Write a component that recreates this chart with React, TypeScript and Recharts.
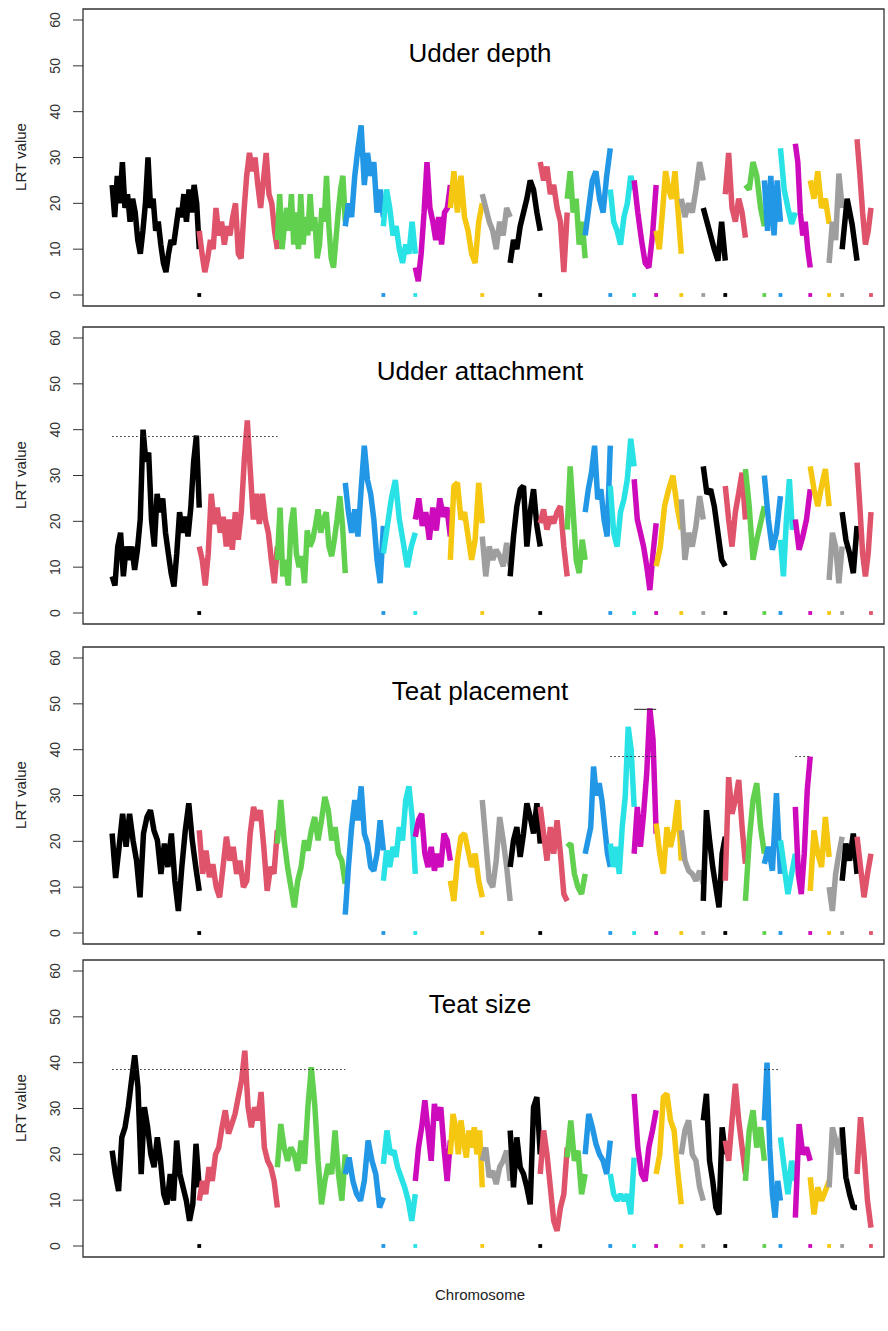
import React from "react";
import {
  ComposedChart, Line, Scatter, XAxis, YAxis, ReferenceArea, ReferenceLine,
} from "recharts";

// R default palette, cycled over chromosomes
const COLORS = ["#000000", "#DF536B", "#61D04F", "#2297E6", "#28E2E5", "#CD0BBC", "#F5C710", "#9E9E9E"];

// chromosome lengths (Mb)
const CHROM_LENGTHS = [281, 252, 219, 123, 103, 113, 103, 90, 97, 87, 58, 81, 77, 71, 81, 71, 71, 65, 61, 52, 48, 48, 61, 42, 48, 45];
// chromosomes whose end carries a small marker at LRT = 0
const MARKER_CHROMS = [1, 4, 5, 7, 9, 12, 13, 14, 15, 16, 17, 19, 20, 22, 23, 24, 26];
const Y_TICKS = [0, 10, 20, 30, 40, 50, 60];

// LRT profiles, one array per chromosome
const UDDER_DEPTH = [
  [24, 17, 26, 20, 29, 19, 22, 16, 21, 18, 12, 9, 14, 20, 30, 19, 21, 14, 16, 11, 7, 5, 9, 12, 11, 15, 19, 17, 22, 16, 23, 18, 24, 20, 10],
  [14, 9, 5, 8, 12, 10, 19, 13, 16, 11, 15, 13, 17, 20, 9, 8, 18, 26, 31, 27, 30, 24, 19, 25, 31, 22, 20, 14, 10],
  [12, 22, 10, 15, 19, 14, 22, 11, 18, 10, 22, 11, 17, 13, 22, 14, 17, 8, 11, 19, 16, 26, 15, 8, 6, 12, 18, 23, 26, 16],
  [15, 20, 17, 26, 32, 37, 24, 31, 26, 29, 18, 23, 17],
  [15, 23, 19, 13, 15, 10, 7, 11, 9, 16, 9],
  [6, 3, 9, 18, 29, 19, 16, 12, 17, 11, 18, 19, 24],
  [19, 27, 18, 26, 17, 14, 9, 7, 16, 20],
  [22, 19, 16, 14, 10, 16, 13, 19, 17],
  [7, 12, 10, 15, 18, 21, 25, 23, 18, 14],
  [29, 25, 28, 22, 24, 19, 16, 5, 18],
  [21, 27, 18, 21, 11, 16, 8],
  [13, 19, 25, 27, 21, 18, 26, 32],
  [23, 16, 14, 11, 17, 20, 26, 23],
  [25, 18, 12, 7, 6, 13, 24],
  [14, 10, 18, 27, 23, 21, 27, 18, 9],
  [21, 17, 20, 18, 23, 29, 25],
  [19, 16, 13, 10, 7.5, 16, 7.5],
  [22, 31, 19, 16, 21, 18, 12.5],
  [24, 23, 29, 26, 19, 15],
  [25, 14, 26, 13, 25, 16],
  [32, 23, 19, 15.5, 18],
  [33, 29, 18, 13, 16, 10, 6],
  [25, 21, 27, 19, 21, 15.5],
  [7, 16, 12, 26.5, 19],
  [10, 21, 15.5, 7.5],
  [34, 26.5, 18, 11, 14, 19],
];

const UDDER_ATTACHMENT = [
  [8, 6, 14.5, 17.5, 8, 14.5, 11.6, 14.5, 9.4, 13.8, 20.4, 40, 33, 35, 20.4, 14.5, 26, 22, 25, 17.5, 13, 8.7, 5.8, 13, 22, 17.5, 21, 16.7, 23, 33, 38.7, 23],
  [14.5, 11.6, 6, 13, 26, 19.4, 23, 17.5, 21, 14.5, 20.4, 13.8, 22, 16, 22, 33.5, 42, 31, 20.4, 26, 19.4, 26, 20.4, 17.5, 11.6, 6.5, 14.5],
  [11.6, 23, 8, 11.6, 6, 19, 23, 13, 10, 12.4, 6.5, 18, 14.5, 16, 19, 22.6, 17.5, 20.4, 22, 14.5, 12.4, 16, 20.4, 25.5, 19, 8.7],
  [28.4, 22, 17.5, 22.6, 16.7, 27, 36.5, 29, 26, 20.4, 11.6, 6.5, 19],
  [13, 19, 25, 29, 20.4, 15.3, 10, 14.5, 17.5],
  [20.4, 25, 19, 22, 16, 23, 18, 25, 21, 23, 16.7],
  [11.6, 27.7, 28.4, 20.4, 22, 16.7, 11.6, 16, 28.4, 19.6],
  [16.7, 8, 14.5, 11.6, 13.8, 12.4, 10.2, 15.3, 10.2],
  [8, 16.7, 23.3, 27, 27.7, 14.5, 22, 27, 19, 14.5],
  [19.6, 22.6, 18.2, 21, 19.6, 22, 23.3, 14.5, 8],
  [18.2, 32, 22, 11.6, 8.7, 16, 11.6],
  [22, 27, 30.6, 36.5, 24.8, 27, 20.4, 16.7, 36.5],
  [27.7, 17.5, 14.5, 22, 24.8, 29.2, 38, 32],
  [29.2, 20.4, 17.5, 14.5, 10.2, 5, 13, 19.6],
  [10.2, 14.5, 23.3, 27, 30, 23.3, 18.2],
  [24.8, 11.6, 17.5, 14.5, 19, 25.5, 20.4],
  [32, 26, 27, 23.3, 17.5, 11.6, 10.2],
  [27.7, 20.4, 14.5, 22, 26.2, 30.6, 20.4],
  [31.4, 23.3, 11.6, 16, 19.6, 23.3],
  [30, 20.4, 13.8, 17.5, 25.5],
  [16, 8, 20.4, 29.2, 18.2, 20.4],
  [20.4, 13.8, 16.7, 20.4, 27],
  [32, 27, 23.3, 27.7, 31.4, 23.3],
  [7.2, 17.5, 14.5, 6.5, 14.5],
  [22, 16, 13, 8.7, 19],
  [32.8, 23.3, 13, 8, 13, 22],
];

const TEAT_PLACEMENT = [
  [21.7, 12, 18.8, 26, 18.8, 26, 20.2, 15.8, 7.8, 21.7, 25.3, 26.8, 22.4, 20.2, 12.9, 19.5, 14.4, 21.7, 11.4, 4.8, 14.4, 22.4, 28.3, 20.2, 14.4, 9.2],
  [22.4, 12.9, 18, 12.2, 15, 10, 7.8, 14.4, 21, 15.8, 18.8, 12.9, 15.8, 10, 11.4, 21.7, 27.5, 24.6, 26.8, 18.8, 9.2, 14.4, 12.9, 22.4],
  [19.5, 29, 20.2, 14.4, 10, 5.6, 11.4, 14.4, 20.2, 18, 22.4, 25.3, 20.2, 24.6, 29.7, 26.8, 20.2, 23.1, 17.3, 15.8, 10.7],
  [4, 14.4, 23, 29, 24.6, 32, 21.7, 19.5, 14.4, 13.6, 17.3, 24.6, 18],
  [11.4, 18, 14.4, 18.8, 16.6, 23.1, 20.2, 29, 32, 25.3, 12.9],
  [21, 24.6, 26, 17.3, 14.4, 18.8, 13.6, 17.3, 14.4, 21.7, 20.2, 15.8],
  [11.4, 7, 15.8, 21, 21.7, 18, 14.4, 17.3, 11.4, 7.8],
  [29, 20.2, 11.4, 10, 15.8, 25.3, 20.2, 14.4, 7],
  [14.4, 20.2, 23.1, 16.6, 21.7, 28.3, 25.3, 21.7, 28.3, 19.5],
  [27.5, 21.7, 15.8, 23.1, 17.3, 24.6, 17.3, 8.5, 7],
  [18.8, 19.5, 12.9, 10, 8.5, 12.9],
  [17.3, 20.2, 23.1, 36.3, 30, 32.7, 29, 23.1, 17.3, 14.4],
  [19.5, 14.4, 18.8, 12.9, 23.1, 29.7, 45, 40, 27.5],
  [17.3, 27.5, 18.8, 26, 34.9, 49, 42.2, 21.7],
  [23.9, 17.3, 12.9, 23.1, 18.8, 22.4, 29, 15.8],
  [22.4, 15.8, 13.6, 12.9, 11.4, 13.6, 10.7],
  [7, 26.8, 20.2, 14.4, 10, 5.6, 17.3, 21],
  [11.4, 34, 26, 29, 33.4, 23.1, 15.1],
  [7, 20.2, 29, 32.7, 23.1, 17.3],
  [15.1, 18.8, 13.6, 30.5, 12.9],
  [20.2, 14.4, 8.5, 12.9, 17.3],
  [27.5, 12.9, 8.5, 17.3, 31.2, 38.5],
  [9.2, 22.4, 17.3, 14.4, 25.3, 16.6],
  [10, 4.8, 12.9, 17.3, 21],
  [11.4, 19.5, 15.8, 21.7, 12.9],
  [21, 14.4, 7.8, 12.9, 17.3],
];

const TEAT_SIZE = [
  [20.8, 15.7, 12, 23.7, 25.9, 30.3, 36.1, 41.6, 34.7, 15.7, 30.3, 25.9, 20, 17.2, 23.7, 18.6, 11.3, 9.1, 15.7, 9.9, 23, 15.7, 12.8, 9.9, 5.5, 9.1, 22.3, 12.8],
  [9.9, 14.2, 11.3, 17.2, 14.2, 20, 21.5, 25.9, 29.6, 24.5, 26.6, 28.8, 32.5, 36.1, 42.6, 30.3, 25.9, 30.3, 27.4, 33.6, 21.5, 18.6, 17.2, 14.2, 8.4],
  [17.2, 26.6, 21.5, 18.6, 21.5, 20, 16.4, 23, 17.9, 30.3, 39, 31, 18.6, 9.1, 14.2, 17.9, 15.7, 25.2, 15.7, 9.9, 20],
  [15.7, 19.3, 14.2, 11.3, 9.9, 14.2, 23, 18.6, 15.7, 8.4, 10.6],
  [17.9, 25.2, 20, 20.8, 17.2, 15, 12.8, 9.9, 5.5, 11.3],
  [14.2, 21.5, 25.9, 31.8, 25.2, 18.6, 31, 27.4, 30.3, 21.5, 14.2, 23],
  [20, 28.8, 25.9, 20, 27.4, 23, 19.3, 25.2, 21.5, 25.9, 20, 25.2, 12.8],
  [18.6, 21.5, 15, 16.4, 13.5, 17.2, 18.6, 20.8, 14.2],
  [25.2, 12.8, 23.7, 17.2, 15.7, 12.8, 9.1, 30.3, 32.5, 20],
  [15.7, 25.2, 20, 12.8, 5.5, 3.3, 8.4, 11.3, 21.5],
  [19.3, 27.4, 18.6, 20.8, 11.3, 15.7],
  [20, 28.8, 25.9, 22.3, 20, 18.6, 15.7, 23],
  [15.7, 11.3, 9.9, 11.3, 9.9, 11.3, 6.9, 19.3],
  [33.2, 21.5, 15.7, 14.2, 21.5, 25.2, 29.6],
  [15.7, 20, 32.5, 33.2, 27.4, 25.2, 16.4, 9.1],
  [20, 25.2, 27.4, 20, 18.6, 12.8, 9.9],
  [27.4, 33.2, 18.6, 14.2, 8.4, 6.9, 25.9, 20],
  [23, 18.6, 27.4, 35.4, 27.4, 21.5, 15.7],
  [14.2, 25.2, 29.6, 21.5, 25.9, 18.6],
  [27.4, 40, 21.5, 11.3, 6.2, 14.2, 9.9],
  [23.7, 17.2, 11.3, 18.6, 14.2],
  [6.2, 26.6, 20, 21.5, 18.6],
  [15, 6.9, 12.8, 9.9, 12, 14.2],
  [12.8, 25.9, 23, 20, 25.2],
  [25.9, 15, 11.3, 8.4, 8.4],
  [15.7, 28.1, 20, 9.9, 4],
];

// significance thresholds: chromosome span (1-based) and LRT level
interface Threshold { from: number; to: number; y: number; dotted: boolean }
const TH_ATTACHMENT: Threshold[] = [{ from: 1, to: 2, y: 38.5, dotted: true }];
const TH_PLACEMENT: Threshold[] = [
  { from: 13, to: 14, y: 38.5, dotted: true },
  { from: 14, to: 14, y: 48.8, dotted: false },
  { from: 22, to: 22, y: 38.5, dotted: true },
];
const TH_SIZE: Threshold[] = [
  { from: 1, to: 3, y: 38.5, dotted: true },
  { from: 20, to: 20, y: 38.5, dotted: true },
];

const CHROM_STARTS = CHROM_LENGTHS.map((_, i) => CHROM_LENGTHS.slice(0, i).reduce((a, b) => a + b, 0));
const X_DOMAIN = [-94, 2490];
const Y_DOMAIN = [-2.4, 62.4];
const FONT = '"Liberation Sans", Arial, sans-serif';

const markerData = MARKER_CHROMS.map((c) => ({
  x: CHROM_STARTS[c - 1] + CHROM_LENGTHS[c - 1],
  y: 0,
  color: COLORS[(c - 1) % COLORS.length],
}));

const RotTick = (props: any) => {
  const { x, y, payload } = props;
  const tx = x - 11;
  return (
    <text x={tx} y={y} transform={`rotate(-90, ${tx}, ${y})`} textAnchor="middle"
      fontFamily={FONT} fontSize={14} fill="#333">
      {payload.value}
    </text>
  );
};

const MarkerShape = (props: any) => (
  <rect x={props.cx - 1.9} y={props.cy - 1.9} width={3.8} height={3.8} fill={props.payload.color} />
);

interface PanelProps {
  title: string;
  top: number;
  series: number[][];
  thresholds: Threshold[];
}

const Panel: React.FC<PanelProps> = ({ title, top, series, thresholds }) => {
  return (
    <div style={{ position: "absolute", left: 0, top: top - 2, width: 888, height: 301 }}>
      <ComposedChart width={888} height={301} margin={{ top: 2, right: 4, bottom: 2, left: 23 }}>
        <XAxis type="number" dataKey="x" domain={X_DOMAIN} hide allowDataOverflow />
        <YAxis type="number" dataKey="y" domain={Y_DOMAIN} ticks={Y_TICKS} width={60} tickSize={10}
          axisLine={false} tickLine={{ stroke: "#333" }} tick={<RotTick />} allowDataOverflow />
        <ReferenceArea x1={X_DOMAIN[0]} x2={X_DOMAIN[1]} y1={Y_DOMAIN[0]} y2={Y_DOMAIN[1]}
          fill="none" stroke="#333" strokeWidth={1.3} ifOverflow="visible" />
        {series.map((vals, i) => {
          const start = CHROM_STARTS[i];
          const len = CHROM_LENGTHS[i];
          const data = vals.map((v, j) => ({ x: start + (len * j) / (vals.length - 1), y: v }));
          return (
            <Line key={i} data={data} dataKey="y" type="linear" stroke={COLORS[i % COLORS.length]}
              strokeWidth={5.5} strokeLinejoin="bevel" dot={false} activeDot={false} isAnimationActive={false} />
          );
        })}
        <Scatter data={markerData} dataKey="y" shape={<MarkerShape />} isAnimationActive={false} />
        {thresholds.map((t, k) => (
          <ReferenceLine key={k} ifOverflow="visible"
            segment={[
              { x: CHROM_STARTS[t.from - 1], y: t.y },
              { x: CHROM_STARTS[t.to - 1] + CHROM_LENGTHS[t.to - 1], y: t.y },
            ]}
            stroke="#222" strokeWidth={1} strokeDasharray={t.dotted ? "1.5 2.5" : undefined} />
        ))}
      </ComposedChart>
      <div style={{
        position: "absolute", left: 280, width: 400, top: 33, textAlign: "center",
        fontFamily: FONT, fontSize: 26, lineHeight: "26px", color: "#000",
      }}>
        {title}
      </div>
      <div style={{
        position: "absolute", left: 20, top: 150, transform: "translate(-50%, -50%) rotate(-90deg)",
        fontFamily: FONT, fontSize: 15, whiteSpace: "nowrap", color: "#222",
      }}>
        LRT value
      </div>
    </div>
  );
};

export default function App() {
  return (
    <div style={{ position: "absolute", left: 0, top: 0, width: 888, height: 1331, background: "#fff" }}>
      <Panel title="Udder depth" top={9} series={UDDER_DEPTH} thresholds={[]} />
      <Panel title="Udder attachment" top={327} series={UDDER_ATTACHMENT} thresholds={TH_ATTACHMENT} />
      <Panel title="Teat placement" top={647} series={TEAT_PLACEMENT} thresholds={TH_PLACEMENT} />
      <Panel title="Teat size" top={960} series={TEAT_SIZE} thresholds={TH_SIZE} />
      <div style={{
        position: "absolute", left: 280, width: 400, top: 1286, textAlign: "center",
        fontFamily: FONT, fontSize: 15, color: "#222",
      }}>
        Chromosome
      </div>
    </div>
  );
}
